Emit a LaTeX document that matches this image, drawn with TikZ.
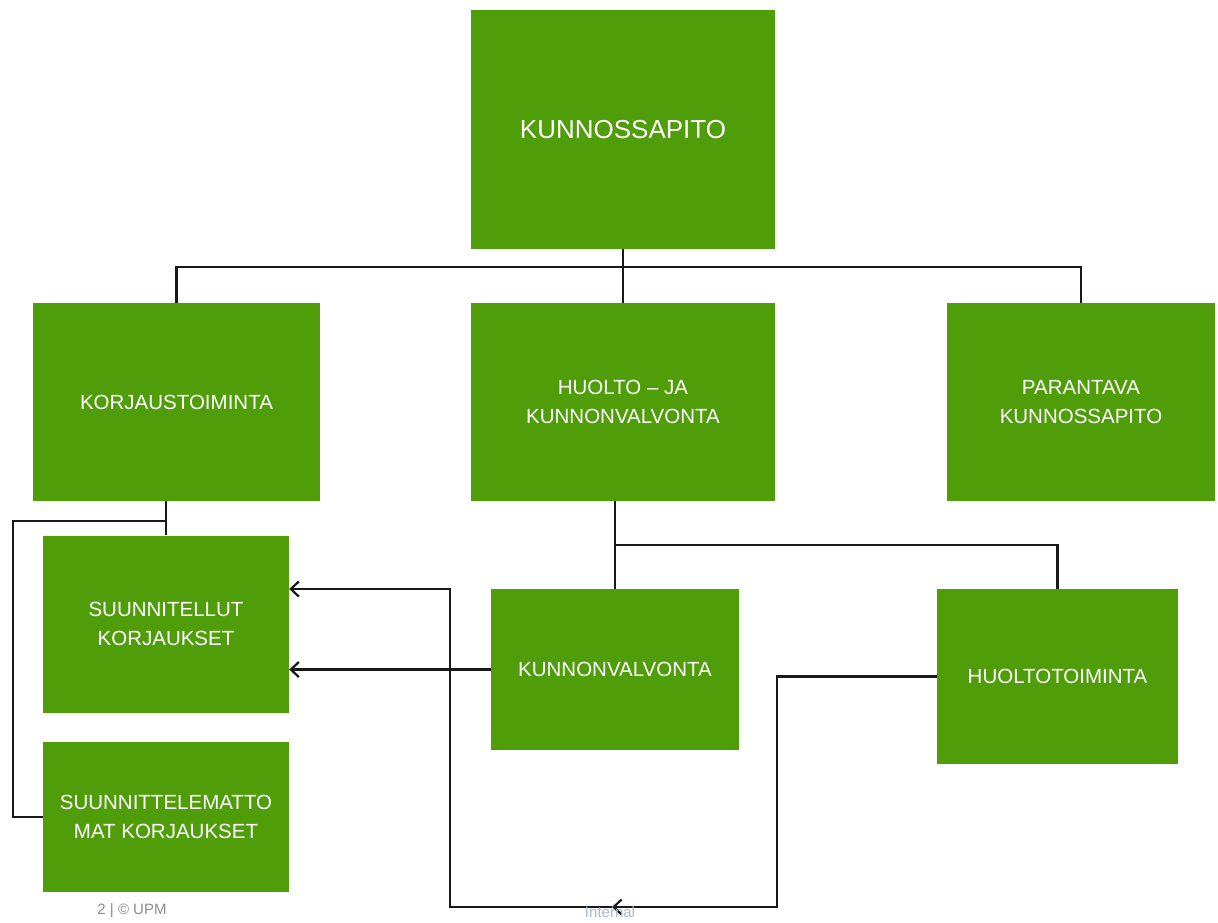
\documentclass[tikz,border=0pt]{standalone}
\usepackage{fontspec}
\setmainfont{Liberation Sans}
\usetikzlibrary{arrows.meta}
\definecolor{boxgreen}{RGB}{80,157,10}
\begin{document}
\begin{tikzpicture}[x=1pt,y=-1pt,
  gbox/.style={fill=boxgreen,draw=none,text=white,align=center,inner sep=2pt,
    font=\fontsize{20.5}{28.5}\selectfont},
  conn/.style={line width=2.6pt,draw=black!90},
  tip/.style={-{Straight Barb[length=8pt,width=15pt,line width=2.2pt]}},
  arr/.style={conn,tip}]
\useasboundingbox (0,0) rectangle (1218,922);
\node[gbox,minimum width=304pt,minimum height=239pt,font=\fontsize{26}{30}\selectfont] (top) at (623,129.5) {KUNNOSSAPITO};
\node[gbox,minimum width=287pt,minimum height=198pt] (korj) at (176.5,402) {KORJAUSTOIMINTA};
\node[gbox,minimum width=304pt,minimum height=198pt] (huolto) at (623,402) {HUOLTO -- JA\\KUNNONVALVONTA};
\node[gbox,minimum width=268pt,minimum height=198pt] (parant) at (1081,402) {PARANTAVA\\KUNNOSSAPITO};
\node[gbox,minimum width=246pt,minimum height=177pt] (suun) at (166,624) {SUUNNITELLUT\\KORJAUKSET};
\node[gbox,minimum width=246pt,minimum height=150pt] (suunm) at (166,817) {SUUNNITTELEMATTO\\MAT KORJAUKSET};
\node[gbox,minimum width=248pt,minimum height=161pt] (kunn) at (615,669.5) {KUNNONVALVONTA};
\node[gbox,minimum width=241pt,minimum height=175pt] (huoltot) at (1057.5,676.5) {HUOLTOTOIMINTA};
% tree from top
\draw[conn] (top.south) -- (huolto.north);
\draw[conn] (korj.north) -- ++(0,-36) -| (parant.north);
% korjaustoiminta branch
\draw[conn] (korj.south -| suun.north) -- (suun.north);
\draw[conn] (suun.north |- 0,521) -- (13,521) |- (suunm.west);
% huolto branch
\draw[conn] (huolto.south -| kunn.north) -- (kunn.north);
\draw[conn] (kunn.north |- 0,545) -| (huoltot.north);
% arrows
\draw[arr] (kunn.west) -- (suun.east |- kunn.west);
\coordinate (m) at (612,907);
\draw[arr] (huoltot.west) -- (huoltot.west -| 777,0) |- (m);
\draw[arr] (m) -- (450,907) |- (suun.east |- 0,589);
% footer texts
\node[text=black!45,font=\fontsize{15}{17}\selectfont] (ftr) at (132,911) {2 | © UPM};
\node[text={rgb,255:red,170;green,185;blue,205},font=\fontsize{15}{17}\selectfont] (intl) at (610,912) {Internal};
\end{tikzpicture}
\end{document}
